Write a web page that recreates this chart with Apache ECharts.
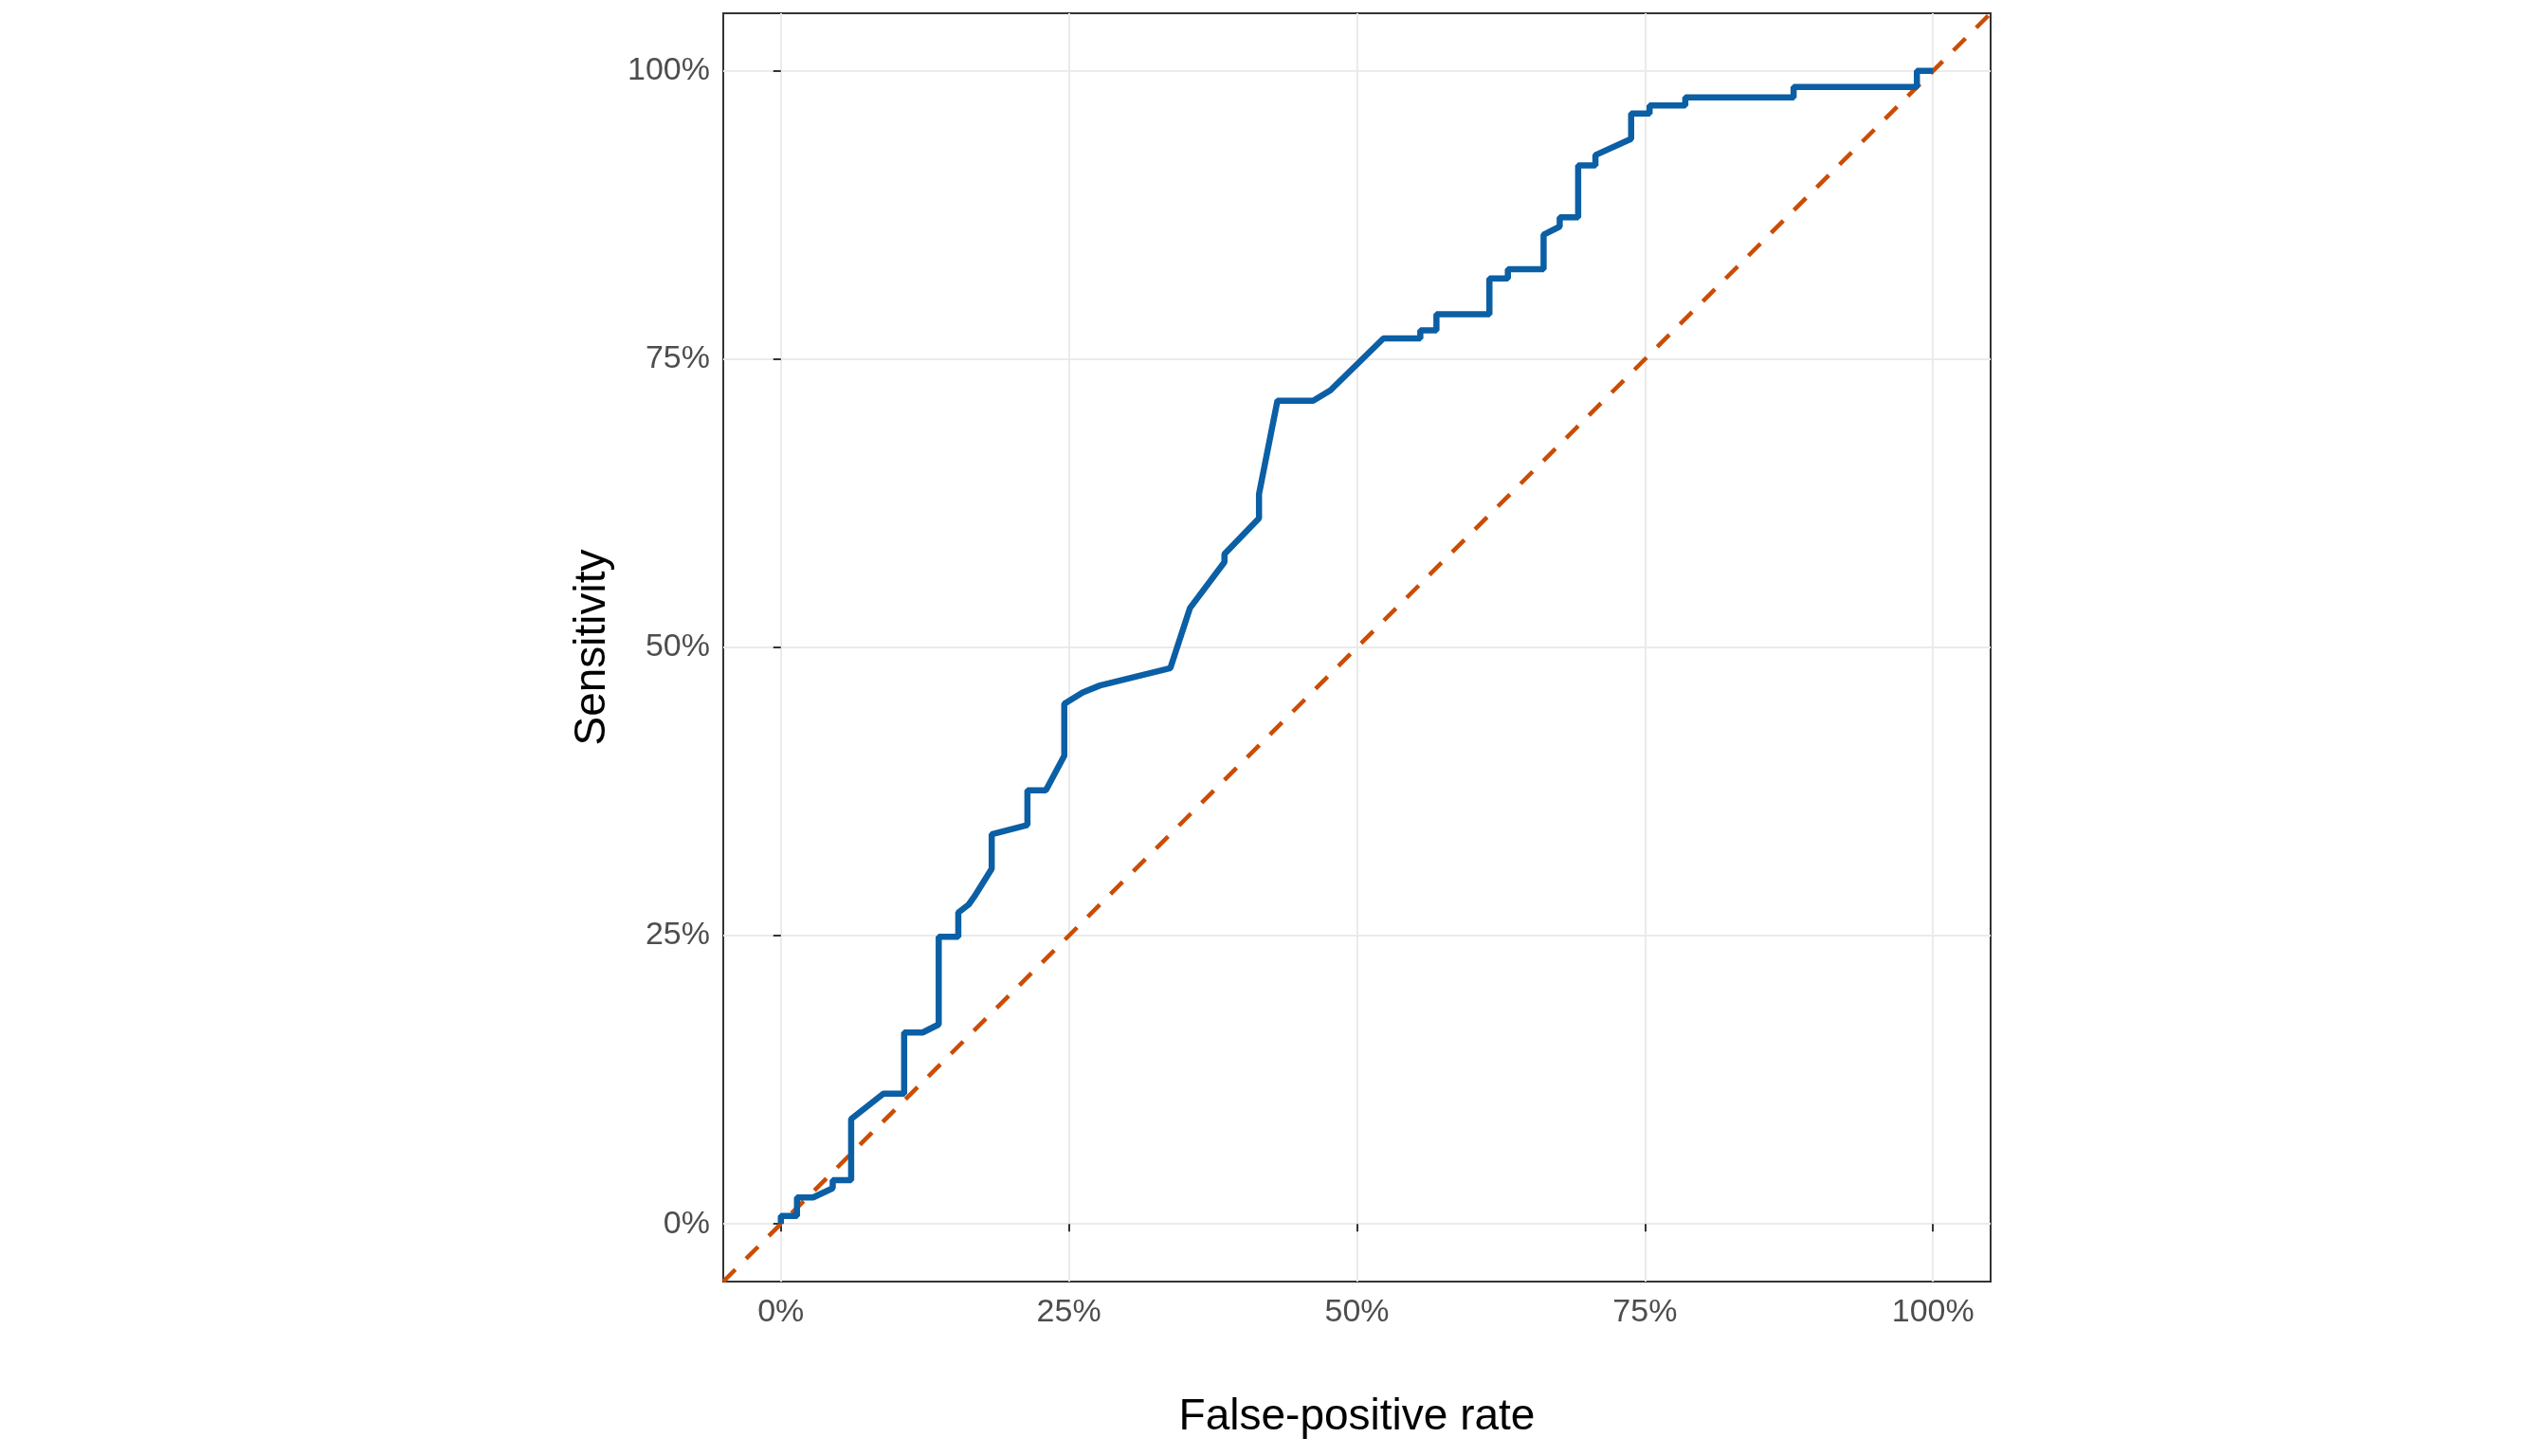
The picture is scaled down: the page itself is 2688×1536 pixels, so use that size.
<!DOCTYPE html>
<html><head><meta charset="utf-8">
<script src="https://cdn.jsdelivr.net/npm/echarts@6/dist/echarts.min.js"></script>
<style>html,body{margin:0;background:#fff}#c{width:2688px;height:1536px}</style>
</head><body><div id="c"></div>
<script>
const fpr = [0,0,1.4,1.4,2.8,4.5,4.5,6.1,6.1,8.9,10.7,10.7,12.3,13.7,13.7,15.4,15.4,16.3,16.8,18.3,18.3,21.4,21.4,23.0,24.6,24.6,26.2,27.7,33.8,35.5,38.5,38.5,41.5,41.5,43.1,46.2,47.7,52.3,55.5,55.5,56.9,56.9,61.5,61.5,63.1,63.1,66.2,66.2,67.6,67.6,69.2,69.2,70.7,70.7,73.8,73.8,75.4,75.4,78.5,78.5,87.9,87.9,98.6,98.6,100];
const sens = [0,0.7,0.7,2.3,2.3,3.1,3.8,3.8,9.1,11.3,11.3,16.6,16.6,17.3,24.9,24.9,27.0,27.7,28.4,30.8,33.8,34.6,37.6,37.6,40.6,45.1,46.1,46.7,48.2,53.4,57.4,58.1,61.2,63.3,71.4,71.4,72.3,76.8,76.8,77.5,77.5,78.9,78.9,82.0,82.0,82.8,82.8,85.8,86.5,87.3,87.3,91.8,91.8,92.7,94.1,96.3,96.3,97.0,97.0,97.7,97.7,98.6,98.6,100,100];
const diag = [[-5,-5],[105,105]];
const ticks = [0,25,50,75,100];
const chart = echarts.init(document.getElementById('c'));
const axisCommon = {
  min:-5,max:105,interval:25,
  axisLine:{show:false},
  axisTick:{show:true,length:8,lineStyle:{color:'#333',width:2},customValues:ticks},
  axisLabel:{color:'#4d4d4d',fontSize:34,fontFamily:'Liberation Sans, Arial',customValues:ticks,formatter:v=>v+'%'},
  splitLine:{show:true,lineStyle:{color:'#ebebeb',width:2}},
  nameLocation:'middle',
  nameTextStyle:{color:'#000',fontSize:46,fontFamily:'Liberation Sans, Arial'}
};
chart.setOption({
  animation:false,
  grid:{left:763,right:588,top:14,bottom:184,show:true,borderColor:'#333',borderWidth:2,backgroundColor:'transparent'},
  xAxis:Object.assign({},axisCommon,{type:'value',name:'False-positive rate',nameGap:120,
    axisLabel:Object.assign({},axisCommon.axisLabel,{margin:16}),
    splitLine:{show:true,lineStyle:{color:'#ebebeb',width:2}}}),
  yAxis:Object.assign({},axisCommon,{type:'value',name:'Sensitivity',nameGap:115,
    axisLabel:Object.assign({},axisCommon.axisLabel,{margin:14})}),
  series:[
    {type:'line',data:diag,symbol:'none',lineStyle:{color:'#cc4c02',width:4.5,type:[18,16]},z:2},
    {type:'line',data:fpr.map((x,i)=>[x,sens[i]]),symbol:'none',lineStyle:{color:'#0b5fa5',width:6.5},z:3}
  ]
});
</script></body></html>
